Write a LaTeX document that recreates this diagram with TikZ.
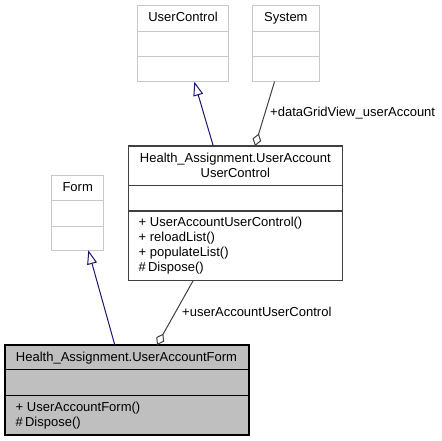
\documentclass[tikz,border=0pt]{standalone}
\usepackage{fontspec}
\setmainfont{Liberation Sans}
\usetikzlibrary{arrows.meta}
\usetikzlibrary{calc}

\definecolor{edgeblue}{HTML}{191970}
\definecolor{edgegray}{HTML}{404040}
\definecolor{boxgray}{HTML}{BFBFBF}
\definecolor{extgray}{HTML}{C8C8C8}

\tikzset{
  extbox/.style={draw=extgray,line width=1pt,fill=white,inner sep=0pt,outer sep=0pt,anchor=north west},
  mainbox/.style={draw=edgegray,line width=1.5pt,inner sep=0pt,outer sep=0pt,anchor=north west},
  txt/.style={inner sep=0pt,anchor=base},
  member/.style={inner sep=0pt,anchor=base west,align=left},
  inherit/.style={edgeblue,line width=1pt,-{Triangle[open,length=14pt,width=10pt]}},
  aggreg/.style={edgegray,line width=1pt,{Diamond[open,length=13pt,width=9pt]}-}
}

\begin{document}
\begin{tikzpicture}[x=1pt,y=-1pt,font=\fontsize{13}{15}\selectfont]
\useasboundingbox (0,0) rectangle (441,441);

% base classes
\node[extbox,minimum width=90.6pt,minimum height=76pt] (userControl) at (137.7,5.7) {};
\draw[extgray,line width=1pt] ($(userControl.north west)+(0,26)$) -- ($(userControl.north east)+(0,26)$);
\draw[extgray,line width=1pt] ($(userControl.north west)+(0,51)$) -- ($(userControl.north east)+(0,51)$);
\node[txt] (userControlName) at (183,21.8) {UserControl};

\node[extbox,minimum width=66.3pt,minimum height=76pt] (system) at (252.7,5.7) {};
\draw[extgray,line width=1pt] ($(system.north west)+(0,26)$) -- ($(system.north east)+(0,26)$);
\draw[extgray,line width=1pt] ($(system.north west)+(0,51)$) -- ($(system.north east)+(0,51)$);
\node[txt] (systemName) at (285.9,21.8) {System};

\node[extbox,minimum width=52pt,minimum height=75pt] (form) at (51.7,175.3) {};
\draw[extgray,line width=1pt] ($(form.north west)+(0,25.4)$) -- ($(form.north east)+(0,25.4)$);
\draw[extgray,line width=1pt] ($(form.north west)+(0,50.7)$) -- ($(form.north east)+(0,50.7)$);
\node[txt] (formName) at (77.7,191.5) {Form};

% user control class
\node[mainbox,fill=white,minimum width=214pt,minimum height=134.3pt] (uaControl) at (128.3,146) {};
\draw[edgegray,line width=1.5pt] ($(uaControl.north west)+(0,39.7)$) -- ($(uaControl.north east)+(0,39.7)$);
\draw[edgegray,line width=1.5pt] ($(uaControl.north west)+(0,65)$) -- ($(uaControl.north east)+(0,65)$);
\node[txt] (uaControlName) at (235.3,162) {Health\_Assignment.UserAccount};
\node[txt] (uaControlName2) at (235.3,177) {UserControl};
\node[member] (uaControlOps) at (138.5,271.7) {+ UserAccountUserControl()\\+ reloadList()\\+ populateList()\\\#\,Dispose()};

% form class
\node[mainbox,draw=black,fill=boxgray,minimum width=244pt,minimum height=90pt] (uaForm) at (5,345) {};
\draw[black,line width=1.5pt] ($(uaForm.north west)+(0,24.3)$) -- ($(uaForm.north east)+(0,24.3)$);
\draw[black,line width=1.5pt] ($(uaForm.north west)+(0,50.7)$) -- ($(uaForm.north east)+(0,50.7)$);
\node[txt] (uaFormName) at (126.5,361.5) {Health\_Assignment.UserAccountForm};
\node[member] (uaFormOps) at (15.5,426.5) {+ UserAccountForm()\\\#\,Dispose()};

% connectors
\draw[inherit] ($(uaControl.north west)!0.397!(uaControl.north east)$) -- ($(userControl.south west)!0.625!(userControl.south east)$);
\draw[aggreg] ($(uaControl.north west)!0.592!(uaControl.north east)$) -- ($(system.south west)!0.329!(system.south east)$);
\node[member] (gridLabel) at (270,116.5) {+dataGridView\_userAccount};
\draw[inherit] ($(uaForm.north west)!0.45!(uaForm.north east)$) -- ($(form.south west)!0.704!(form.south east)$);
\draw[aggreg] ($(uaForm.north west)!0.623!(uaForm.north east)$) -- ($(uaControl.south west)!0.304!(uaControl.south east)$);
\node[member] (controlLabel) at (182,316.3) {+userAccountUserControl};

\end{tikzpicture}
\end{document}
